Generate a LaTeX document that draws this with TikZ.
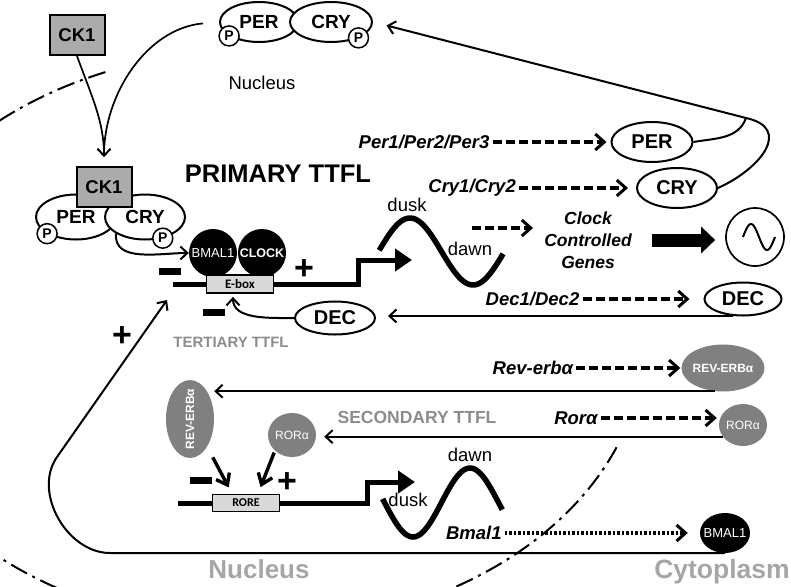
\documentclass[tikz,border=0pt]{standalone}
\usepackage{fontspec}
\setmainfont{Liberation Sans}
\newfontfamily\boxfont{Carlito}
\usepackage{tikz}
\usetikzlibrary{arrows.meta,positioning}
\usetikzlibrary{calc,shapes}

\begin{document}
\begin{tikzpicture}[x=1pt, y=-1pt,
    every node/.style={font=\fontsize{18.5}{20}\selectfont},
    prot/.style={draw, ellipse, line width=2pt, fill=white, inner sep=0pt, font=\fontsize{20}{21}\selectfont\bfseries},
    phos/.style={draw, circle, line width=1.5pt, fill=white, inner sep=0pt, minimum size=20pt, font=\fontsize{14}{15}\selectfont\bfseries},
    kinase/.style={draw, line width=2pt, fill=black!33, inner sep=0pt, minimum width=55pt, minimum height=40pt, font=\fontsize{18.5}{20}\selectfont\bfseries},
    tf/.style={ellipse, fill=black, text=white, inner xsep=-9pt, inner ysep=0pt, font=\fontsize{13}{14}\selectfont},
    nr/.style={ellipse, fill=black!50, text=white, inner sep=-5pt, font=\fontsize{12}{13}\selectfont},
    element/.style={draw, line width=1.8pt, fill=black!15, inner sep=0pt},
    gene/.style={font=\fontsize{18.5}{20}\selectfont\bfseries\itshape, inner sep=3pt},
    loopname/.style={text=black!45, font=\fontsize{#1}{#1}\selectfont\bfseries},
    compartment/.style={text=black!35, font=\fontsize{26}{28}\selectfont\bfseries, anchor=base},
    plussign/.style={font=\fontsize{34}{34}\selectfont\bfseries, inner sep=0pt},
    minussign/.style={fill=black, minimum width=22pt, minimum height=7pt, inner sep=0pt},
    rel/.style={-{Straight Barb[length=7pt,width=13pt]}, line width=2pt},
    transl/.style={-{Straight Barb[length=9pt,width=16pt,line width=3pt]}, line width=3.2pt, dash pattern=on 9pt off 4pt},
    act/.style={-{Straight Barb[length=10pt,width=15pt]}, line width=3.4pt},
    dna/.style={line width=5pt},
    tss/.style={line width=5pt, -{Triangle[length=17pt,width=22pt]}},
    wave/.style={line width=5.5pt},
    nucwall/.style={line width=2pt, dash pattern=on 18pt off 6pt on 3pt off 6pt}
  ]
  \useasboundingbox (0,0) rectangle (791,586);

  % nuclear envelope (dash-dot)
  \coordinate (nucC) at (255,339);
  \begin{scope}
    \clip (0,0) rectangle (791,586);
    \draw[nucwall] (nucC) ++(200:390 and 289) arc[start angle=200, end angle=248, x radius=390, y radius=289];
    \draw[nucwall] (nucC) ++(22:390 and 289) arc[start angle=22, end angle=160, x radius=390, y radius=289];
  \end{scope}

  % PER/CRY complex outside, CK1
  \node[prot, minimum width=78pt, minimum height=40pt, font=\fontsize{19}{20}\selectfont\bfseries] (perT) at (259,22) {PER};
  \node[prot, minimum width=82pt, minimum height=40pt, font=\fontsize{19}{20}\selectfont\bfseries] (cryT) at (331,22) {CRY};
  \node[phos] (pT1) at (perT.205) {P};
  \node[phos] (pT2) at (cryT.-30) {P};
  \node[kinase] (ck1T) at (77,35) {CK1};
  \node (nucT) at (262,83) {Nucleus};

  % PER/CRY complex in the nucleus
  \node[prot, minimum width=80pt, minimum height=45pt, font=\fontsize{19}{20}\selectfont\bfseries] (perL) at (76,217) {PER};
  \node[prot, minimum width=80pt, minimum height=45pt, font=\fontsize{19}{20}\selectfont\bfseries] (cryL) at (145,217) {CRY};
  \node[phos] (pL1) at (perL.210) {P};
  \node[phos] (pL2) at (cryL.-50) {P};
  \node[kinase] (ck1L) at (104,187) {CK1};

  \draw[rel, line width=1.7pt, shorten >=9pt] (ck1T.south) to[out=-70, in=90] (ck1L.north);
  \draw[rel, line width=1.7pt, shorten <=16pt, shorten >=9pt] (perT.west) to[out=185, in=90] (ck1L.north);

  % primary loop: E-box
  \node[tf, minimum size=48pt] (bmalA) at (213,253) {BMAL1};
  \node[tf, minimum size=48pt, font=\fontsize{12.5}{13}\selectfont\bfseries] (clockA) at (262,253) {CLOCK};
  \node[element, minimum width=67pt, minimum height=18pt, font=\boxfont\bfseries\fontsize{13}{14}\selectfont] (ebox) at (240,284) {E-box};
  \coordinate (eL) at (173,284);
  \coordinate (eTSS) at (358,284);
  \coordinate (eTip) at (412,260);
  \draw[dna] (eL) -- (ebox.west);
  \draw[tss] (ebox.east) -- (eTSS) |- (eTip);
  \draw[rel] (cryL.south west) to[out=-95, in=180] (bmalA.west);

  \node[minussign] (mi1) at (170,271) {};
  \node[minussign] (mi2) at (214,312) {};
  \node[plussign] (pl1) at (304,270) {+};
  \node[plussign] (pl2) at (122,337) {+};

  \draw[wave] plot[domain=2:356, samples=60, smooth] ({378.5+\x/360*126}, {251.5-33.5*sin(\x)});
  \node (duskA) at (407,205) {dusk};
  \node (dawnA) at (470,249) {dawn};
  \node[font=\fontsize{25.5}{27}\selectfont\bfseries] (primary) at (278,174) {PRIMARY TTFL};

  % clock controlled genes
  \node[gene, align=center, font=\fontsize{17.5}{22}\selectfont\bfseries\itshape] (ccg) at (588,240) {Clock\\Controlled\\Genes};
  \coordinate (ccgIn) at (472,228);
  \draw[transl, shorten >=8pt] (ccgIn) -- (ccgIn -| ccg.west);
  \node[draw, circle, line width=1.7pt, minimum size=58pt, inner sep=0pt] (osc) at (755,237) {};
  \draw[line width=2pt, shift={(osc.center)}] plot[domain=0:360, samples=40, smooth] ({-12+\x/360*32}, {-13*sin(\x)});
  \draw[line width=13pt, -{Triangle[length=14pt,width=26pt]}, shorten <=17pt, shorten >=10pt] (ccg.east) -- (ccg.east -| osc.west);

  % translation to proteins
  \node[prot, minimum width=81pt, minimum height=40pt] (perR) at (652,142) {PER};
  \node[prot, minimum width=80pt, minimum height=40pt] (cryR) at (677,188) {CRY};
  \node[prot, minimum width=77pt, minimum height=33pt] (decR) at (743,299) {DEC};
  \node[gene, left=118pt of perR] (geneP) {Per1/Per2/Per3};
  \node[gene, left=117pt of cryR] (geneC) {Cry1/Cry2};
  \node[gene, left=121pt of decR] (geneD) {Dec1/Dec2};
  \draw[transl, shorten >=4pt] (geneP) -- (perR);
  \draw[transl, shorten >=8pt] (geneC) -- (cryR);
  \draw[transl, shorten >=14pt] (geneD) -- (decR);

  \coordinate (jn) at (746,118);
  \draw[line width=2pt] (perR.east) to[out=10, in=-110] (jn);
  \draw[rel, shorten >=14pt] (cryR.east) .. controls (762,168) and (792,128) .. (jn) -- (cryT.east);

  % tertiary loop
  \node[prot, minimum width=80pt, minimum height=33pt] (decL) at (335,318) {DEC};
  \draw[rel, shorten >=12pt] (decR.-120) -- (decR.-120 -| decL.east);
  \draw[rel, shorten >=3pt] (decL.west) to[out=180, in=-90] ([xshift=-7pt]ebox.south);
  \node[loopname=15] (tertiary) at (231,342) {TERTIARY TTFL};

  % secondary loop
  \node[nr, minimum width=83pt, minimum height=47pt, font=\fontsize{12}{13}\selectfont\bfseries] (revR) at (723,368) {REV-ERBα};
  \node[nr, minimum width=48pt, minimum height=42pt] (rorR) at (743,425) {RORα};
  \node[gene, left=105pt of revR] (geneRev) {Rev-erbα};
  \node[gene, left=118pt of rorR, yshift=7pt] (geneRor) {Rorα};
  \draw[transl, shorten >=1pt] (geneRev) -- (revR);
  \draw[transl, shorten >=2pt] (geneRor.east) -- (geneRor.east -| rorR.west);

  \node[nr, minimum width=48pt, minimum height=78pt, font=\fontsize{12}{13}\selectfont\bfseries] (revL) at (190,419) {\rotatebox{90}{REV-ERBα}};
  \node[nr, minimum width=48pt, minimum height=44pt] (rorL) at (292,435) {RORα};
  \draw[rel] (revR.-110) -- (revR.-110 -| revL.east);
  \draw[rel, shorten >=8pt] (rorR.-150) -- (rorR.-150 -| rorL.east);
  \node[loopname=17.5] (secondary) at (417,417) {SECONDARY TTFL};

  \node[element, minimum width=67pt, minimum height=17pt, font=\boxfont\bfseries\fontsize{12}{13}\selectfont] (rore) at (246,503) {RORE};
  \coordinate (rL) at (178,503);
  \coordinate (rTSS) at (367,503);
  \coordinate (rTip) at (415,482);
  \draw[dna] (rL) -- (rore.west);
  \draw[tss] (rore.east) -- (rTSS) |- (rTip);
  \draw[act, shorten <=12pt, shorten >=7pt] (revL.south east) -- ([xshift=-14pt]rore.north);
  \draw[act, shorten <=2pt, shorten >=7pt] (rorL.south west) -- ([xshift=12pt]rore.north);
  \node[minussign] (mi3) at (201,480) {};
  \node[plussign] (pl3) at (287,483) {+};

  \draw[wave] plot[domain=-6:372, samples=60, smooth] ({384.5+\x/360*114}, {502.5+34.5*sin(\x)});
  \node (duskB) at (408,500) {dusk};
  \node (dawnB) at (470,455) {dawn};

  % BMAL1 back to the E-box
  \node[tf, minimum width=50pt, minimum height=40pt] (bmalC) at (725,533) {BMAL1};
  \node[gene, left=195pt of bmalC] (geneB) {Bmal1};
  \draw[transl, dash pattern=on 2.5pt off 2pt, shorten >=12pt] (geneB) -- (bmalC);
  \coordinate (loopTip) at (167,300);
  \draw[rel] (bmalC.south) -- (110,553) to[out=180, in=-125] (57,457) -- (loopTip);

  \node[compartment] (nucB) at (259,578) {Nucleus};
  \node[compartment, font=\fontsize{26.5}{28}\selectfont\bfseries] (cyto) at (722,578) {Cytoplasm};
\end{tikzpicture}
\end{document}
